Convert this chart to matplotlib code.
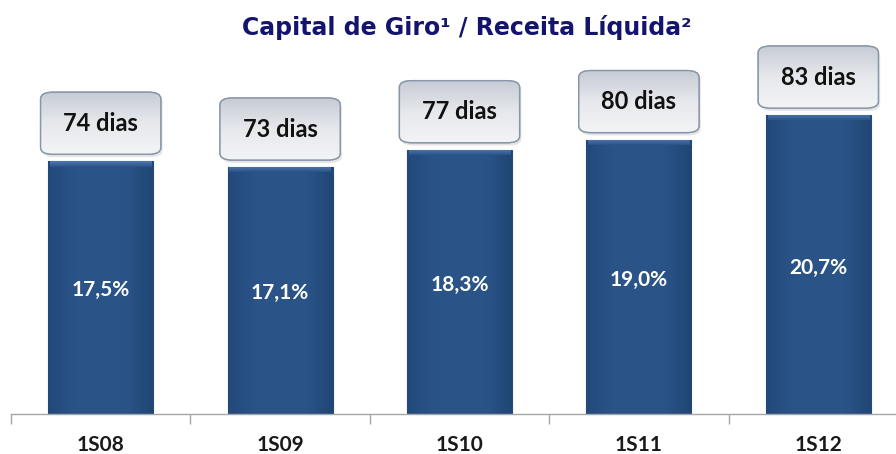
import numpy as np
import matplotlib
matplotlib.use("Agg")
import matplotlib.pyplot as plt
from matplotlib.patches import FancyBboxPatch
from matplotlib.colors import LinearSegmentedColormap

categories = ["1S08", "1S09", "1S10", "1S11", "1S12"]
ratio_pct = [17.5, 17.1, 18.3, 19.0, 20.7]
days = [74, 73, 77, 80, 83]
pct_labels = ["17,5%", "17,1%", "18,3%", "19,0%", "20,7%"]
day_labels = [f"{d} dias" for d in days]
title = "Capital de Giro¹ / Receita Líquida²"

W, H = 896, 454
fig = plt.figure(figsize=(W / 100, H / 100), dpi=100)
fig.patch.set_facecolor("white")

x0, x1 = 11, 908
yb = 414
ytop = 10
ax = fig.add_axes([x0 / W, (H - yb) / H, (x1 - x0) / W, (yb - ytop) / H])
ax.set_xlim(-0.5, 4.5)
ax.set_ylim(0, (yb - ytop) / 14.43)
ax.set_facecolor("none")
for s in ["top", "right", "left"]:
    ax.spines[s].set_visible(False)
ax.spines["bottom"].set_color("#a6a6a6")
ax.spines["bottom"].set_linewidth(1.0)
ax.set_yticks([])
ax.set_xticks(np.arange(-0.5, 5.0, 1.0), minor=False)
ax.set_xticklabels([])
ax.tick_params(axis="x", direction="out", length=7, color="#a6a6a6", width=1.0)

x = np.arange(len(categories))
bw = 0.585
bars = ax.bar(x, ratio_pct, width=bw, color="#2a5287", edgecolor="#244a7a",
              linewidth=0.8, zorder=2)

bar_cmap = LinearSegmentedColormap.from_list(
    "bar", ["#23497a", "#2a5388", "#2b5489", "#2a5388", "#21467 5".replace(" ", "")])
grad = np.linspace(0, 1, 256).reshape(1, -1)
top_cmap = LinearSegmentedColormap.from_list("top", ["#2a5388", "#4f78ad"])
tgrad = np.linspace(0, 1, 64).reshape(-1, 1)
for b in bars:
    bx, by = b.get_x(), b.get_y()
    bwid, bh = b.get_width(), b.get_height()
    im = ax.imshow(grad, extent=[bx, bx + bwid, by, by + bh], aspect="auto",
                   cmap=bar_cmap, zorder=2.5, origin="lower")
    im.set_clip_path(b)
    bev = 0.35
    im2 = ax.imshow(tgrad, extent=[bx + 0.01, bx + bwid - 0.01, by + bh - bev, by + bh],
                    aspect="auto", cmap=top_cmap, zorder=2.6, origin="lower")
    im2.set_clip_path(b)

for xi, v, lab in zip(x, ratio_pct, pct_labels):
    ax.text(xi, v * 0.49, lab, ha="center", va="center", color="white",
            fontsize=15, fontweight="bold", family=["Lato", "DejaVu Sans"],
            zorder=4)

box_w = 0.67
box_h = 4.3
box_cmap = LinearSegmentedColormap.from_list("box", ["#f3f4f6", "#e6e8ec", "#c6cbd4"])
vgrad = np.linspace(0, 1, 256).reshape(-1, 1)
for xi, v, lab in zip(x, ratio_pct, day_labels):
    bottom = v + 0.5
    sh = FancyBboxPatch((xi - box_w / 2 + 0.01, bottom - 0.2), box_w, box_h,
                        boxstyle="round,pad=0,rounding_size=0.07",
                        mutation_aspect=6.5, facecolor="#000000", alpha=0.10,
                        edgecolor="none", zorder=2.8)
    ax.add_patch(sh)
    p = FancyBboxPatch((xi - box_w / 2, bottom), box_w, box_h,
                       boxstyle="round,pad=0,rounding_size=0.07",
                       mutation_aspect=6.5, facecolor="#dfe3e9",
                       edgecolor="#8e9cb0", linewidth=1.0, zorder=3)
    ax.add_patch(p)
    im = ax.imshow(vgrad, extent=[xi - box_w / 2, xi + box_w / 2, bottom, bottom + box_h],
                   aspect="auto", cmap=box_cmap, origin="lower", zorder=3.1)
    im.set_clip_path(p)
    edge = FancyBboxPatch((xi - box_w / 2, bottom), box_w, box_h,
                          boxstyle="round,pad=0,rounding_size=0.07",
                          mutation_aspect=6.5, facecolor="none",
                          edgecolor="#8796ab", linewidth=1.0, zorder=3.2)
    ax.add_patch(edge)
    ax.text(xi, bottom + box_h * 0.5, lab, ha="center", va="center",
            color="#111111", fontsize=17, fontweight="bold",
            family=["Lato", "DejaVu Sans"], zorder=4)

for xi, c in zip(x, categories):
    ax.text(xi, -31 / 14.43, c, ha="center", va="center", color="#1a1a1a",
            fontsize=15, fontweight="bold", family=["Lato", "DejaVu Sans"],
            clip_on=False)

fig.text(467 / W, 1 - 27 / H, title, ha="center", va="center",
         color="#14146e", fontsize=17, fontweight="bold",
         family=["DejaVu Sans"])

fig.savefig("out.png", dpi=100)
